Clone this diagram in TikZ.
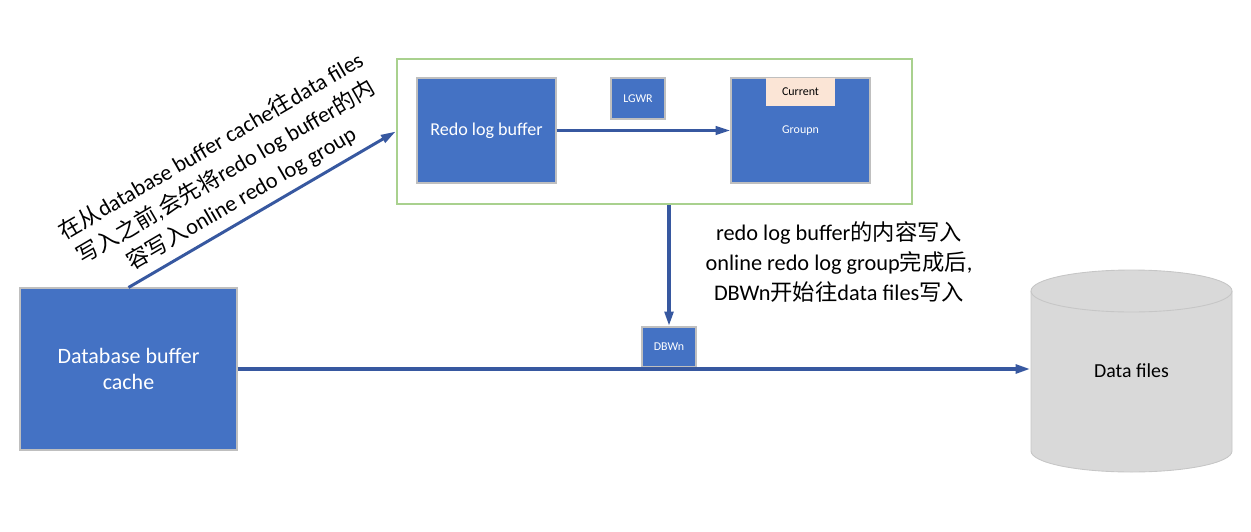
\documentclass[tikz,border=0pt]{standalone}
\usepackage{fontspec}
\setmainfont{Carlito}
\newfontfamily\zhfont{Noto Sans CJK SC}
\usetikzlibrary{arrows.meta}

\begin{document}
\begin{tikzpicture}[x=0.02cm, y=-0.02cm,
  blockbox/.style={draw=boxline, fill=boxblue, text=white, inner sep=0pt, line width=0.6pt},
  flow/.style={draw=arrowblue, line width=2.3pt, -{Triangle[length=8.5pt,width=4.8pt]}},
  note/.style={align=center, font=\fontsize{12.7}{17.1}\selectfont},
  small/.style={font=\fontsize{6.8}{8}\selectfont}]
% Define colors
\definecolor{boxblue}{RGB}{68,114,196}
\definecolor{boxline}{RGB}{191,191,191}
\definecolor{arrowblue}{RGB}{55,88,160}
\definecolor{framegreen}{RGB}{169,209,142}
\definecolor{currfill}{RGB}{251,229,214}
\definecolor{cylfill}{RGB}{217,217,217}
\definecolor{cylline}{RGB}{198,198,198}

\useasboundingbox (0,0) rectangle (1251,531);

% Database buffer cache
\node[blockbox, minimum width=4.34cm, minimum height=3.24cm, align=center,
  font=\fontsize{12.5}{14.8}\selectfont] (dbc) at (128.5,369) {Database buffer\\cache};

% Online redo log area
\node[draw=framegreen, line width=1.5pt, minimum width=10.3cm, minimum height=2.9cm] (grp) at (654.5,131.5) {};
\node[blockbox, minimum width=2.78cm, minimum height=2.1cm, font=\fontsize{10.3}{12}\selectfont] (redo) at (486.5,130.5) {Redo log buffer};
\node[blockbox, small, minimum width=1.08cm, minimum height=0.82cm] (lgwr) at (638,98.5) {LGWR};
\node[blockbox, small, minimum width=2.78cm, minimum height=2.1cm] (groupn) at (800.5,130.5) {Groupn};
\node[fill=currfill, small, inner sep=0pt, minimum width=1.38cm, minimum height=0.56cm] (cur) at (800.5,92) {Current};
\draw[flow, line width=1.7pt] (redo.east) -- (groupn.west);

% DBWn
\node[blockbox, small, minimum width=1.08cm, minimum height=0.8cm] (dbwn) at (669,347) {DBWn};
\draw[flow] (dbwn.north |- grp.south) -- (dbwn.north);

% Data files cylinder
\fill[cylfill] (1031,291) -- (1031,451) arc[start angle=180, end angle=0, x radius=100.5, y radius=21]
  -- (1232,291) arc[start angle=0, end angle=-180, x radius=100.5, y radius=21] -- cycle;
\draw[cylline, line width=0.5pt] (1031,291) -- (1031,451) arc[start angle=180, end angle=0, x radius=100.5, y radius=21] -- (1232,291);
\draw[cylline, line width=0.5pt] (1131.5,291) ellipse [x radius=100.5, y radius=21];
\node[minimum width=4.02cm, minimum height=4.04cm, font=\fontsize{11.3}{13}\selectfont] (data) at (1131.5,371) {Data files};

% Arrows with notes
\draw[flow] (dbc.east) -- (dbc.east -| data.west);
\draw[flow, line width=1.7pt] (dbc.north) -- (grp.west)
  node[note, pos=0.46, sloped, above=1pt] {{\zhfont 在从}database buffer cache{\zhfont 往}data files\\{\zhfont 写入之前},{\zhfont 会先将}redo log buffer{\zhfont 的内}\\{\zhfont 容写入}online redo log group};

\node[note] (note2) at (839,262) {redo log buffer{\zhfont 的内容写入}\\online redo log group{\zhfont 完成后},\\DBWn{\zhfont 开始往}data files{\zhfont 写入}};

\end{tikzpicture}
\end{document}
